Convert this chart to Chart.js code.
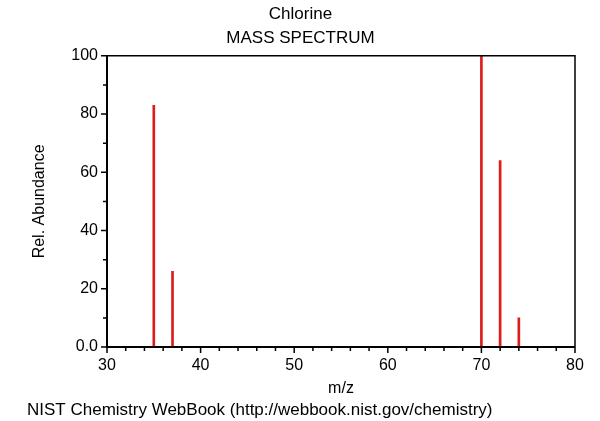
<!DOCTYPE html>
<html>
<head>
<meta charset="utf-8">
<script src="https://cdn.jsdelivr.net/npm/chart.js@4"></script>
<style>
  html, body { margin: 0; padding: 0; background: #fff; }
  #wrap { width: 600px; height: 421px; }
</style>
</head>
<body>
<div id="wrap"><canvas id="spectrum"></canvas></div>
<script>
// ====================== Data ======================
const mzValues = [35, 37, 70, 72, 74];
const abundance = [83, 26, 100, 64, 10];
const compoundName = "Chlorine";
const footerText = "NIST Chemistry WebBook (http://webbook.nist.gov/chemistry)";

Chart.defaults.font.family = "'Liberation Sans', Arial, sans-serif";
Chart.defaults.color = "#000";

// axes box + major/minor tick marks + footer
const frame = {
  id: "frame",
  afterDraw(chart) {
    const { ctx, chartArea: a, scales: { x, y } } = chart;
    ctx.save();
    ctx.strokeStyle = "#000";

    // top and right border
    ctx.lineWidth = 1.5;
    ctx.beginPath();
    ctx.moveTo(a.left, a.top);
    ctx.lineTo(a.right, a.top);
    ctx.lineTo(a.right, a.bottom);
    ctx.stroke();

    // left and bottom axis
    ctx.lineWidth = 2;
    ctx.beginPath();
    ctx.moveTo(a.left, a.top);
    ctx.lineTo(a.left, a.bottom);
    ctx.lineTo(a.right, a.bottom);
    ctx.stroke();

    ctx.lineWidth = 1.5;
    ctx.beginPath();
    for (let v = x.min; v <= x.max; v += 2) {
      const px = x.getPixelForValue(v);
      const len = v % 10 === 0 ? 6 : 4;
      ctx.moveTo(px, a.bottom);
      ctx.lineTo(px, a.bottom + len);
    }
    for (let v = y.min; v <= y.max; v += 10) {
      const py = y.getPixelForValue(v);
      const len = v % 20 === 0 ? 6 : 4;
      ctx.moveTo(a.left, py);
      ctx.lineTo(a.left - len, py);
    }
    ctx.stroke();

    ctx.fillStyle = "#000";
    ctx.font = "17px 'Liberation Sans', Arial, sans-serif";
    ctx.textAlign = "left";
    ctx.textBaseline = "middle";
    ctx.fillText(footerText, 27, 410);
    ctx.restore();
  }
};

const ctx = document.getElementById("spectrum").getContext("2d");

new Chart(ctx, {
  type: "bar",
  data: {
    datasets: [{
      data: mzValues.map((m, i) => ({ x: m, y: abundance[i] })),
      backgroundColor: "#dd1c1c",
      barThickness: 2,
      borderWidth: 0
    }]
  },
  options: {
    responsive: true,
    maintainAspectRatio: false,
    animation: false,
    layout: { padding: { left: 26, right: 25, top: 0, bottom: 19 } },
    plugins: {
      legend: { display: false },
      tooltip: { enabled: false },
      title: {
        display: true,
        text: [compoundName, "MASS SPECTRUM"],
        font: { size: 17, weight: "normal", lineHeight: 1.45 },
        color: "#000",
        padding: { top: 1.5, bottom: 5 }
      }
    },
    scales: {
      x: {
        type: "linear",
        min: 30,
        max: 80,
        offset: false,
        grid: { display: false },
        border: { display: false },
        ticks: { stepSize: 10, padding: 1, font: { size: 16 }, color: "#000" },
        title: { display: true, text: "m/z", font: { size: 16 }, color: "#000" },
        afterFit: s => { s.height = 55; }
      },
      y: {
        min: 0,
        max: 100,
        grid: { display: false },
        border: { display: false },
        ticks: {
          stepSize: 20,
          padding: 1,
          font: { size: 16 },
          color: "#000",
          callback: v => v === 0 ? "0.0" : v
        },
        title: { display: true, text: "Rel. Abundance", font: { size: 16 }, color: "#000" },
        afterFit: s => { s.width = 81; }
      }
    }
  },
  plugins: [frame]
});
</script>
</body>
</html>
